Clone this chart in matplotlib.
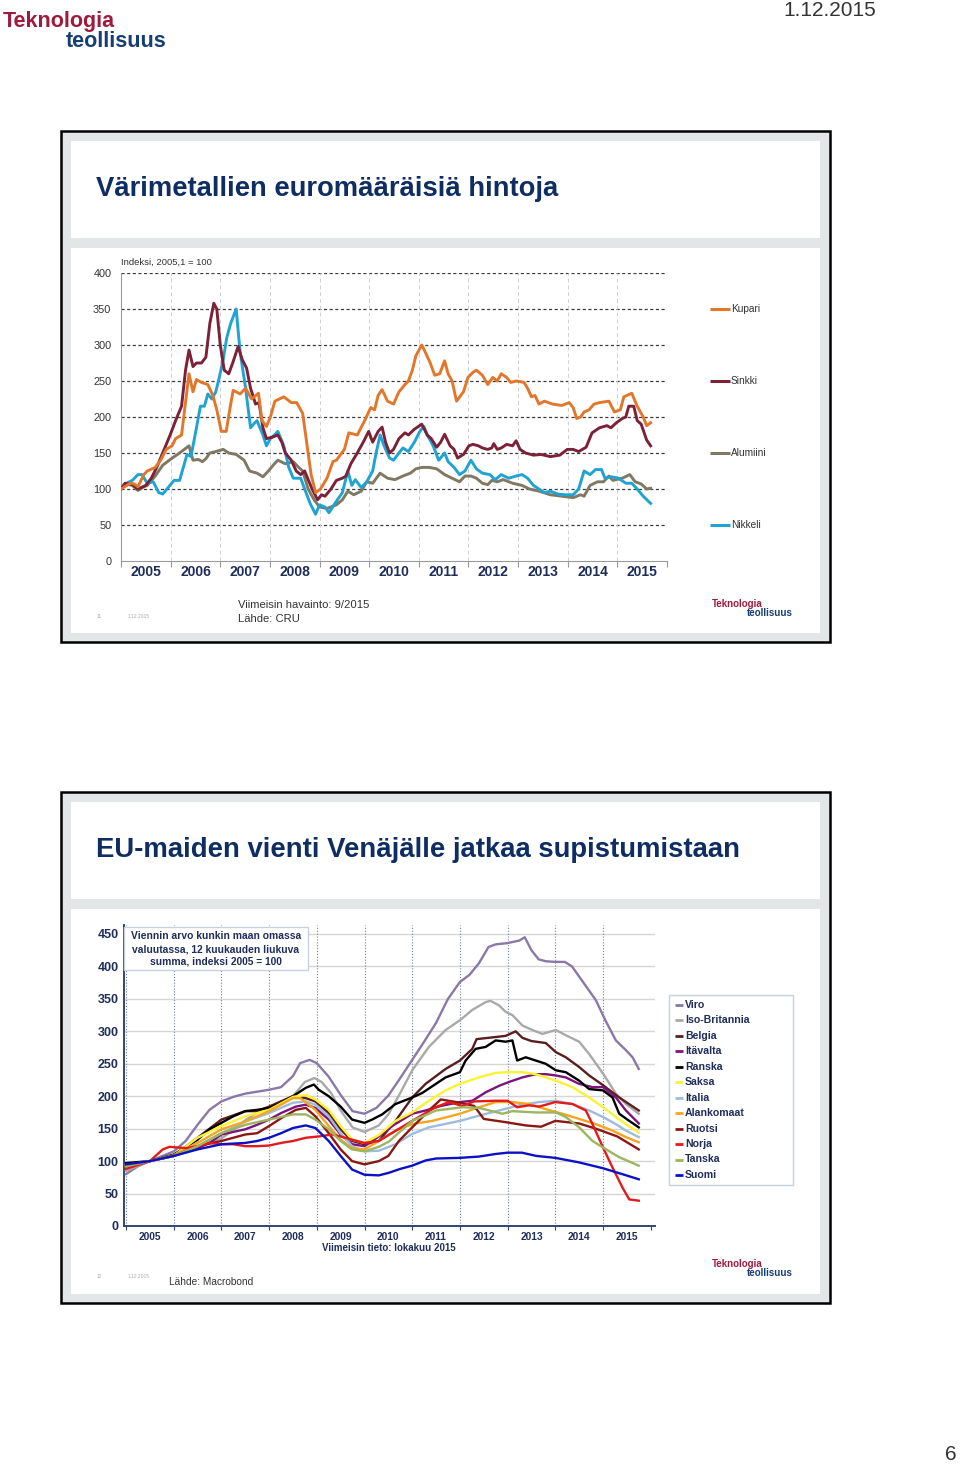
import matplotlib
matplotlib.use("Agg")
import matplotlib.pyplot as plt
from matplotlib.patches import Rectangle
from matplotlib.lines import Line2D

plt.rcParams['font.family'] = ['Liberation Sans', 'DejaVu Sans']

W, H = 960, 1466

# ---- chart 1: metal prices, index 2005/1 = 100 ----
kupari_t = [2005.00, 2005.19, 2005.27, 2005.34, 2005.46, 2005.53, 2005.69, 2005.80, 2005.91, 2006.03,
            2006.10, 2006.22, 2006.37, 2006.45, 2006.52, 2006.62, 2006.75, 2006.85, 2006.93, 2007.02,
            2007.12, 2007.19, 2007.26, 2007.40, 2007.51, 2007.63, 2007.77, 2007.84, 2007.93, 2008.01,
            2008.10, 2008.28, 2008.43, 2008.54, 2008.66, 2008.75, 2008.83, 2008.92, 2009.02, 2009.15,
            2009.27, 2009.34, 2009.50, 2009.59, 2009.76, 2009.91, 2010.03, 2010.11, 2010.18, 2010.26,
            2010.37, 2010.49, 2010.60, 2010.72, 2010.79, 2010.87, 2010.94, 2011.06, 2011.13, 2011.23,
            2011.32, 2011.42, 2011.52, 2011.59, 2011.67, 2011.76, 2011.90, 2011.99, 2012.09, 2012.16,
            2012.28, 2012.39, 2012.49, 2012.58, 2012.66, 2012.77, 2012.85, 2012.96, 2013.12, 2013.19,
            2013.27, 2013.34, 2013.42, 2013.53, 2013.69, 2013.88, 2014.03, 2014.11, 2014.18, 2014.26,
            2014.33, 2014.43, 2014.53, 2014.64, 2014.83, 2014.94, 2015.06, 2015.13, 2015.29, 2015.40,
            2015.52, 2015.59, 2015.67]
kupari_v = [100, 108, 107, 103, 120, 125, 130, 140, 155, 160,
            170, 175, 260, 235, 252, 248, 245, 230, 210, 180,
            180, 210, 237, 232, 240, 225, 233, 195, 187, 200,
            222, 228, 220, 220, 205, 160, 120, 95, 100, 115,
            138, 140, 155, 178, 175, 195, 213, 210, 230, 238,
            222, 218, 235, 245, 250, 265, 285, 300, 290, 275,
            258, 260, 278, 260, 250, 222, 235, 255, 262, 265,
            258, 245, 255, 250, 260, 255, 248, 250, 248, 240,
            228, 230, 218, 222, 218, 216, 220, 213, 198, 200,
            207, 210, 218, 220, 222, 207, 210, 228, 233, 215,
            200, 188, 192]

sinkki_t = [2005.00, 2005.08, 2005.23, 2005.34, 2005.50, 2005.61, 2005.72, 2005.84, 2005.99, 2006.10,
            2006.22, 2006.30, 2006.37, 2006.45, 2006.52, 2006.62, 2006.71, 2006.79, 2006.87, 2006.93,
            2007.00, 2007.08, 2007.17, 2007.25, 2007.36, 2007.44, 2007.53, 2007.61, 2007.71, 2007.78,
            2007.86, 2007.93, 2008.05, 2008.16, 2008.24, 2008.31, 2008.43, 2008.53, 2008.62, 2008.70,
            2008.85, 2008.96, 2009.04, 2009.11, 2009.23, 2009.34, 2009.46, 2009.53, 2009.63, 2009.76,
            2009.88, 2009.99, 2010.07, 2010.18, 2010.26, 2010.33, 2010.41, 2010.49, 2010.60, 2010.72,
            2010.79, 2010.91, 2011.06, 2011.17, 2011.25, 2011.36, 2011.44, 2011.52, 2011.63, 2011.71,
            2011.78, 2011.90, 2012.01, 2012.09, 2012.20, 2012.28, 2012.39, 2012.47, 2012.51, 2012.58,
            2012.66, 2012.77, 2012.89, 2012.96, 2013.04, 2013.15, 2013.31, 2013.46, 2013.65, 2013.84,
            2013.99, 2014.11, 2014.22, 2014.37, 2014.49, 2014.64, 2014.79, 2014.87, 2014.98, 2015.10,
            2015.17, 2015.23, 2015.33, 2015.40, 2015.48, 2015.59, 2015.67]
sinkki_v = [100, 108, 106, 100, 105, 115, 130, 150, 175, 195,
            215, 265, 293, 270, 275, 275, 283, 330, 358, 350,
            300, 265, 260, 275, 298, 280, 268, 240, 218, 220,
            185, 170, 172, 175, 165, 150, 140, 125, 120, 125,
            100, 85, 92, 90, 100, 112, 115, 118, 135, 150,
            165, 180, 165, 180, 186, 165, 150, 155, 170, 178,
            175, 183, 190, 175, 170, 158, 165, 176, 160, 155,
            143, 148, 160, 162, 160, 157, 155, 157, 163, 155,
            157, 162, 160, 167, 155, 150, 147, 148, 145, 147,
            155, 155, 152, 158, 178, 185, 188, 185, 192, 198,
            200, 215, 215, 195, 190, 168, 160]

alumiini_t = [2005.00, 2005.11, 2005.23, 2005.34, 2005.46, 2005.53, 2005.69, 2005.84, 2006.03, 2006.14,
              2006.37, 2006.45, 2006.56, 2006.64, 2006.71, 2006.79, 2006.91, 2007.06, 2007.17, 2007.32,
              2007.48, 2007.59, 2007.74, 2007.86, 2007.97, 2008.09, 2008.16, 2008.31, 2008.47, 2008.58,
              2008.66, 2008.77, 2008.89, 2009.00, 2009.15, 2009.34, 2009.46, 2009.57, 2009.69, 2009.84,
              2009.95, 2010.07, 2010.22, 2010.37, 2010.52, 2010.68, 2010.83, 2010.94, 2011.06, 2011.21,
              2011.36, 2011.52, 2011.67, 2011.82, 2011.93, 2012.05, 2012.16, 2012.28, 2012.39, 2012.47,
              2012.58, 2012.70, 2012.89, 2013.08, 2013.23, 2013.42, 2013.65, 2013.88, 2014.11, 2014.26,
              2014.33, 2014.45, 2014.60, 2014.72, 2014.83, 2014.91, 2015.10, 2015.25, 2015.36, 2015.48,
              2015.59, 2015.67]
alumiini_v = [100, 107, 105, 98, 103, 105, 118, 133, 143, 148,
              160, 140, 141, 138, 142, 150, 152, 155, 150, 148,
              140, 125, 122, 117, 125, 135, 140, 135, 138, 130,
              125, 100, 85, 75, 73, 78, 85, 97, 92, 97,
              110, 108, 122, 115, 113, 118, 122, 128, 130, 130,
              128, 120, 115, 110, 118, 118, 115, 108, 106, 112,
              110, 113, 108, 105, 100, 97, 92, 90, 88, 92,
              90, 105, 110, 110, 118, 112, 115, 120, 110, 107,
              100, 101]

nikkeli_t = [2005.00, 2005.11, 2005.23, 2005.34, 2005.42, 2005.53, 2005.65, 2005.76, 2005.84, 2005.95,
             2006.07, 2006.18, 2006.33, 2006.41, 2006.52, 2006.60, 2006.68, 2006.75, 2006.83, 2006.91,
             2006.98, 2007.06, 2007.13, 2007.21, 2007.32, 2007.40, 2007.51, 2007.61, 2007.67, 2007.74,
             2007.86, 2007.93, 2008.01, 2008.09, 2008.16, 2008.28, 2008.38, 2008.47, 2008.62, 2008.70,
             2008.81, 2008.92, 2009.00, 2009.11, 2009.19, 2009.31, 2009.46, 2009.57, 2009.65, 2009.72,
             2009.84, 2009.95, 2010.07, 2010.14, 2010.22, 2010.30, 2010.41, 2010.49, 2010.60, 2010.68,
             2010.79, 2010.91, 2011.02, 2011.10, 2011.17, 2011.29, 2011.40, 2011.52, 2011.59, 2011.71,
             2011.82, 2011.93, 2012.05, 2012.16, 2012.28, 2012.43, 2012.54, 2012.66, 2012.81, 2012.96,
             2013.08, 2013.19, 2013.31, 2013.42, 2013.53, 2013.65, 2013.80, 2013.95, 2014.11, 2014.22,
             2014.33, 2014.45, 2014.56, 2014.68, 2014.75, 2014.87, 2015.02, 2015.17, 2015.29, 2015.40,
             2015.52, 2015.67]
nikkeli_v = [100, 108, 112, 120, 120, 108, 110, 95, 93, 102,
             112, 112, 148, 145, 185, 215, 215, 232, 225, 235,
             255, 280, 310, 330, 350, 290, 240, 185, 190, 195,
             175, 160, 170, 175, 180, 160, 130, 115, 115, 100,
             80, 65, 78, 75, 67, 80, 95, 125, 105, 113,
             102, 110, 125, 150, 175, 160, 143, 140, 150, 157,
             152, 165, 180, 187, 175, 160, 140, 150, 138, 130,
             120, 125, 140, 128, 122, 120, 113, 120, 115, 118,
             120, 115, 105, 100, 95, 97, 93, 92, 92, 100,
             125, 120, 127, 127, 115, 117, 115, 108, 108, 100,
             90, 80]

metals = ["Kupari", "Sinkki", "Alumiini", "Nikkeli"]
metal_colors = ["#E2772C", "#7B2138", "#807862", "#1FA3D2"]

# ---- chart 2: EU exports to Russia, index 2005 = 100 ----
viro_t = [2005.0, 2005.25, 2005.5, 2006.0, 2006.25, 2006.5, 2006.75, 2007.0, 2007.25, 2007.5, 2007.75,
          2008.0, 2008.25, 2008.5, 2008.65, 2008.85, 2009.0, 2009.25, 2009.5, 2009.75, 2010.0, 2010.25,
          2010.5, 2010.75, 2011.0, 2011.25, 2011.5, 2011.75, 2012.0, 2012.2, 2012.4, 2012.6, 2012.75,
          2013.0, 2013.25, 2013.36, 2013.5, 2013.65, 2013.8, 2014.0, 2014.2, 2014.35, 2014.6, 2014.85,
          2015.05, 2015.27, 2015.48, 2015.62, 2015.75]
viro_v = [80, 92, 100, 115, 131, 156, 179, 192, 199, 204, 207, 210, 214, 231, 251, 256, 251, 230, 202,
          177, 173, 182, 201, 228, 256, 284, 313, 350, 376, 387, 405, 430, 434, 436, 440, 445, 425, 411,
          408, 407, 407, 400, 374, 348, 317, 286, 271, 260, 242]

uk_t = [2005.0, 2005.5, 2006.0, 2006.5, 2007.0, 2007.25, 2007.5, 2007.75, 2008.0, 2008.25, 2008.5,
        2008.75, 2008.95, 2009.1, 2009.3, 2009.5, 2009.75, 2010.0, 2010.3, 2010.5, 2010.75, 2011.0,
        2011.35, 2011.7, 2012.0, 2012.26, 2012.54, 2012.64, 2012.82, 2012.96, 2013.1, 2013.31, 2013.52,
        2013.73, 2014.01, 2014.22, 2014.5, 2014.71, 2015.0, 2015.27, 2015.48, 2015.75]
uk_v = [85, 100, 110, 122, 135, 148, 163, 175, 183, 192, 200, 222, 228, 222, 205, 178, 152, 145, 155,
        172, 205, 240, 276, 302, 317, 333, 345, 347, 340, 330, 325, 309, 302, 296, 302, 294, 284, 265,
        235, 204, 188, 173]

belgia_t = [2005.0, 2005.5, 2006.0, 2006.5, 2007.0, 2007.5, 2007.75, 2008.0, 2008.25, 2008.5, 2008.77,
            2008.97, 2009.25, 2009.5, 2009.74, 2010.0, 2010.3, 2010.65, 2011.0, 2011.28, 2011.7, 2012.0,
            2012.26, 2012.35, 2012.6, 2012.96, 2013.17, 2013.31, 2013.5, 2013.8, 2014.01, 2014.22, 2014.5,
            2014.71, 2015.0, 2015.34, 2015.75]
belgia_v = [92, 100, 108, 136, 164, 177, 177, 184, 192, 200, 197, 192, 174, 149, 131, 126, 131, 162, 198,
            219, 242, 255, 273, 288, 290, 293, 300, 290, 285, 282, 268, 260, 245, 232, 217, 198, 178]

itavalta_t = [2005.0, 2005.5, 2006.0, 2006.5, 2006.75, 2007.0, 2007.5, 2007.75, 2008.0, 2008.25, 2008.56,
              2008.77, 2008.97, 2009.25, 2009.5, 2009.74, 2010.0, 2010.3, 2010.6, 2011.0, 2011.28, 2011.6,
              2012.0, 2012.26, 2012.54, 2012.82, 2013.03, 2013.31, 2013.59, 2013.8, 2014.01, 2014.22,
              2014.5, 2014.78, 2015.0, 2015.27, 2015.48, 2015.75]
itavalta_v = [92, 100, 108, 120, 128, 141, 149, 156, 164, 174, 184, 187, 182, 164, 141, 126, 123, 138,
              155, 173, 178, 185, 191, 193, 206, 216, 222, 229, 234, 234, 232, 229, 219, 214, 214, 198,
              178, 158]

ranska_t = [2005.0, 2005.5, 2006.0, 2006.5, 2006.75, 2007.0, 2007.25, 2007.5, 2007.75, 2008.0, 2008.25,
            2008.5, 2008.77, 2008.94, 2009.04, 2009.25, 2009.5, 2009.74, 2010.0, 2010.16, 2010.37,
            2010.65, 2011.0, 2011.21, 2011.7, 2012.0, 2012.12, 2012.33, 2012.54, 2012.75, 2012.96,
            2013.1, 2013.2, 2013.38, 2013.59, 2013.8, 2014.01, 2014.22, 2014.5, 2014.71, 2015.0, 2015.2,
            2015.34, 2015.55, 2015.75]
ranska_v = [97, 100, 110, 133, 149, 159, 169, 177, 179, 182, 190, 200, 213, 218, 210, 200, 184, 164,
            159, 164, 172, 188, 198, 205, 229, 237, 255, 273, 276, 286, 284, 286, 255, 260, 255, 250,
            240, 237, 224, 211, 209, 198, 173, 162, 152]

saksa_t = [2005.0, 2005.5, 2006.0, 2006.5, 2007.0, 2007.5, 2008.0, 2008.5, 2008.77, 2008.97, 2009.25,
           2009.5, 2009.74, 2010.0, 2010.3, 2010.65, 2011.0, 2011.35, 2011.7, 2012.0, 2012.4, 2012.75,
           2013.0, 2013.31, 2013.59, 2014.01, 2014.36, 2014.71, 2015.0, 2015.27, 2015.48, 2015.75]
saksa_v = [94, 100, 108, 136, 154, 169, 179, 199, 202, 195, 179, 154, 133, 128, 140, 162, 175, 193, 209,
           219, 229, 236, 237, 237, 234, 224, 214, 198, 183, 168, 157, 144]

italia_t = [2005.0, 2005.5, 2006.0, 2006.5, 2007.0, 2007.5, 2008.0, 2008.5, 2008.77, 2008.97, 2009.25,
            2009.5, 2009.74, 2010.0, 2010.3, 2010.65, 2011.0, 2011.35, 2012.0, 2012.4, 2012.82, 2013.24,
            2013.66, 2014.01, 2014.36, 2014.71, 2015.0, 2015.27, 2015.48, 2015.75]
italia_v = [92, 100, 108, 123, 143, 161, 174, 190, 192, 187, 169, 143, 123, 115, 116, 126, 142, 152, 162,
            170, 178, 186, 191, 193, 188, 178, 168, 157, 147, 137]

alankomaat_t = [2005.0, 2005.5, 2006.0, 2006.5, 2007.0, 2007.5, 2008.0, 2008.5, 2008.66, 2008.97,
                2009.25, 2009.5, 2009.74, 2010.0, 2010.3, 2010.65, 2011.0, 2011.42, 2012.0, 2012.4,
                2012.75, 2013.1, 2013.45, 2013.8, 2014.15, 2014.5, 2014.85, 2015.2, 2015.48, 2015.75]
alankomaat_v = [90, 100, 109, 128, 149, 161, 177, 197, 197, 179, 154, 133, 120, 118, 131, 147, 157, 162,
                173, 183, 191, 191, 188, 180, 173, 165, 157, 147, 137, 129]

ruotsi_t = [2005.0, 2005.5, 2006.0, 2006.5, 2007.0, 2007.5, 2007.75, 2008.0, 2008.25, 2008.56, 2008.77,
            2008.97, 2009.25, 2009.5, 2009.74, 2010.0, 2010.3, 2010.5, 2010.72, 2011.0, 2011.35, 2011.6,
            2012.0, 2012.3, 2012.5, 2012.96, 2013.38, 2013.7, 2014.0, 2014.5, 2014.85, 2015.3, 2015.75]
ruotsi_v = [92, 100, 108, 123, 131, 141, 143, 154, 166, 179, 182, 169, 143, 118, 100, 95, 100, 108, 131,
            152, 178, 195, 190, 185, 165, 160, 155, 153, 162, 158, 150, 138, 118]

norja_t = [2005.0, 2005.5, 2005.77, 2005.91, 2006.26, 2006.5, 2006.75, 2007.0, 2007.25, 2007.5, 2007.75,
           2008.0, 2008.25, 2008.5, 2008.77, 2009.04, 2009.32, 2009.5, 2009.74, 2010.0, 2010.3, 2010.5,
           2011.0, 2011.49, 2011.77, 2012.05, 2012.3, 2012.75, 2013.0, 2013.2, 2013.45, 2013.66, 2014.0,
           2014.36, 2014.64, 2014.78, 2015.0, 2015.2, 2015.41, 2015.55, 2015.75]
norja_v = [88, 100, 118, 122, 120, 123, 128, 126, 126, 123, 123, 124, 128, 131, 136, 138, 141, 138, 133,
           128, 131, 140, 162, 183, 191, 185, 192, 193, 193, 183, 186, 184, 191, 188, 178, 157, 121, 90,
           59, 41, 39]

tanska_t = [2005.0, 2005.5, 2006.0, 2006.5, 2007.0, 2007.5, 2008.0, 2008.5, 2008.77, 2008.97, 2009.25,
            2009.5, 2009.74, 2010.0, 2010.3, 2010.51, 2011.0, 2011.5, 2012.05, 2012.4, 2012.89, 2013.1,
            2013.59, 2014.01, 2014.22, 2014.5, 2014.78, 2015.0, 2015.34, 2015.75]
tanska_v = [92, 100, 108, 123, 143, 156, 164, 172, 172, 164, 149, 131, 118, 115, 122, 130, 162, 178, 183,
            182, 173, 177, 175, 175, 168, 152, 131, 121, 106, 93]

suomi_t = [2005.0, 2005.5, 2006.0, 2006.5, 2007.0, 2007.5, 2007.75, 2008.0, 2008.25, 2008.5, 2008.77,
           2008.97, 2009.25, 2009.5, 2009.74, 2010.0, 2010.3, 2010.51, 2010.75, 2011.0, 2011.28, 2011.5,
           2012.0, 2012.4, 2012.75, 2013.0, 2013.3, 2013.6, 2014.0, 2014.5, 2015.0, 2015.4, 2015.75]
suomi_v = [95, 100, 108, 118, 126, 128, 131, 136, 143, 151, 155, 151, 131, 108, 87, 79, 78, 82, 88, 93,
           101, 104, 105, 107, 111, 113, 113, 108, 105, 98, 89, 80, 72]

countries = ["Viro", "Iso-Britannia", "Belgia", "Itävalta", "Ranska", "Saksa", "Italia",
             "Alankomaat", "Ruotsi", "Norja", "Tanska", "Suomi"]
country_colors = ["#8A78A8", "#A9A9A9", "#5A1E1E", "#7C147C", "#000000", "#FAF232", "#9DBCDC",
                  "#F5A51E", "#8A1712", "#E4191B", "#9CB55E", "#0B12C4"]

years = list(range(2005, 2016))

# ---- layout helpers (pixel based) ----
def fx(x):
    return x / W

def fy(y):
    return 1 - y / H

def px_rect(x0, y0, x1, y1):
    return [x0 / W, 1 - y1 / H, (x1 - x0) / W, (y1 - y0) / H]

def box(x0, y0, x1, y1, fc, ec="none", lw=0.0, z=-10):
    fig.add_artist(Rectangle((fx(x0), fy(y1)), (x1 - x0) / W, (y1 - y0) / H,
                             transform=fig.transFigure, facecolor=fc, edgecolor=ec,
                             linewidth=lw, zorder=z))

def seg(x0, x1, y, color, lw=2.0, z=6):
    fig.add_artist(Line2D([fx(x0), fx(x1)], [fy(y), fy(y)], transform=fig.transFigure,
                          color=color, lw=lw, solid_capstyle="butt", zorder=z))

def small_logo(y_base):
    fig.text(fx(712), fy(y_base), "Teknologia", fontsize=7.0, fontweight="bold",
             color=logo_red, va="baseline")
    fig.text(fx(793), fy(y_base + 9), "teollisuus", fontsize=7.0, fontweight="bold",
             color=logo_blue, va="baseline", ha="right")

fig = plt.figure(figsize=(W / 100, H / 100), dpi=100)
fig.patch.set_facecolor("white")

navy = "#0E2D63"
label_navy = "#1F2D5A"
logo_red = "#9E1B3E"
logo_blue = "#173E73"

# page header
fig.text(fx(3), fy(27), "Teknologia", fontsize=15.5, fontweight="bold", color=logo_red)
fig.text(fx(66), fy(47), "teollisuus", fontsize=15.5, fontweight="bold", color=logo_blue)
fig.text(fx(876), fy(11), "1.12.2015", fontsize=15, color="#333333", ha="right", va="center")
fig.text(fx(957), fy(1455), "6", fontsize=15, color="#333333", ha="right", va="center")

# slide frames
for top in (131, 792):
    box(61, top, 830, top + 511, "#E3E6E6", "black", 1.8)
    box(71, top + 10, 820, top + 107, "white")
    box(71, top + 117, 820, top + 502, "white")

fig.text(fx(96), fy(189), "Värimetallien euromääräisiä hintoja", fontsize=19.7,
         fontweight="bold", color=navy, va="center")
fig.text(fx(96), fy(850), "EU-maiden vienti Venäjälle jatkaa supistumistaan", fontsize=19.8,
         fontweight="bold", color=navy, va="center")

# ---- chart 1 ----
ax1 = fig.add_axes(px_rect(121, 273, 667, 561))
ax1.set_xlim(2005, 2016)
ax1.set_ylim(0, 400)
for v in range(50, 401, 50):
    ax1.axhline(v, color="#3A3A3A", lw=0.9, ls=(0, (2.5, 2)), zorder=1)
for yr in range(2006, 2016):
    ax1.axvline(yr, color="#D0D0D0", lw=0.7, ls=(0, (4, 3)), zorder=1)

series1 = [(alumiini_t, alumiini_v, metal_colors[2]),
           (nikkeli_t, nikkeli_v, metal_colors[3]),
           (sinkki_t, sinkki_v, metal_colors[1]),
           (kupari_t, kupari_v, metal_colors[0])]
for t, v, c in series1:
    ax1.plot(t, v, color=c, lw=2.1, zorder=3)

for s in ("top", "right"):
    ax1.spines[s].set_visible(False)
for s in ("left", "bottom"):
    ax1.spines[s].set_color("#9A9A9A")
ax1.set_yticks(range(0, 401, 50))
ax1.tick_params(axis="y", length=0, pad=7, labelsize=7.8, labelcolor="#333333")
ax1.set_xticks(range(2005, 2017))
ax1.set_xticklabels([])
ax1.tick_params(axis="x", which="major", length=4, color="#9A9A9A")
ax1.set_xticks([y + 0.5 for y in years], minor=True)
ax1.set_xticklabels([str(y) for y in years], minor=True, fontweight="bold")
ax1.tick_params(axis="x", which="minor", length=0, pad=3, labelsize=10, labelcolor=label_navy)

fig.text(fx(121), fy(262), "Indeksi, 2005,1 = 100", fontsize=6.8, color="#333333", va="center")

for name, c, y in zip(metals, metal_colors, [309, 381, 453, 525]):
    seg(710, 730, y, c, lw=2.2)
    fig.text(fx(731), fy(y), name, fontsize=7.3, color="#333333", va="center")

fig.text(fx(97), fy(617), "11", fontsize=3.5, color="#AAAAAA", va="center")
fig.text(fx(128), fy(617), "1.12.2015", fontsize=3.5, color="#AAAAAA", va="center")
fig.text(fx(238), fy(605), "Viimeisin havainto: 9/2015", fontsize=8.1, color="#333333", va="center")
fig.text(fx(238), fy(619), "Lähde: CRU", fontsize=8.1, color="#333333", va="center")
small_logo(607)

# ---- chart 2 ----
x_left = 2005 - 2 / 47.7
x_right = 2005 + (655 - 126) / 47.7
ax2 = fig.add_axes(px_rect(124, 925, 655, 1226))
ax2.set_xlim(x_left, x_right)
ax2.set_ylim(0, 450 + 9 / 0.649)
for v in range(50, 451, 50):
    ax2.axhline(v, color="#D6D6D6", lw=1.0, zorder=1)
for yr in range(2005, 2016):
    ax2.axvline(yr, color="#6F7FA3", lw=0.8, ls=(0, (1, 1.6)), zorder=1)

series2 = [(viro_t, viro_v), (uk_t, uk_v), (belgia_t, belgia_v), (itavalta_t, itavalta_v),
           (ranska_t, ranska_v), (saksa_t, saksa_v), (italia_t, italia_v),
           (alankomaat_t, alankomaat_v), (ruotsi_t, ruotsi_v), (norja_t, norja_v),
           (tanska_t, tanska_v), (suomi_t, suomi_v)]
for (t, v), c in zip(series2, country_colors):
    ax2.plot(t, v, color=c, lw=1.7, zorder=3)

for s in ("top", "right"):
    ax2.spines[s].set_visible(False)
for s in ("left", "bottom"):
    ax2.spines[s].set_color("#34456F")
    ax2.spines[s].set_linewidth(1.4)
ax2.set_yticks(range(0, 451, 50))
ax2.set_yticklabels([str(v) for v in range(0, 451, 50)], fontweight="bold")
ax2.tick_params(axis="y", length=0, pad=4, labelsize=9, labelcolor=label_navy)
ax2.set_xticks(range(2005, 2017))
ax2.set_xticklabels([])
ax2.tick_params(axis="x", which="major", length=3, color="#34456F")
ax2.set_xticks([y + 0.5 for y in years], minor=True)
ax2.set_xticklabels([str(y) for y in years], minor=True, fontweight="bold")
ax2.tick_params(axis="x", which="minor", length=0, pad=4, labelsize=7.4, labelcolor=label_navy)

# note box in the chart corner
box(124, 927, 308, 970, "white", "#C8D2DC", 1.0, z=5)
for i, line in enumerate(["Viennin arvo kunkin maan omassa",
                          "valuutassa, 12 kuukauden liukuva",
                          "summa, indeksi 2005 = 100"]):
    fig.text(fx(216), fy(936 + 13 * i), line, fontsize=7.4, fontweight="bold",
             color=label_navy, ha="center", va="center", zorder=6)

# legend
box(669, 995, 793, 1185, "white", "#C5D3DE", 1.0, z=5)
for i, (name, c) in enumerate(zip(countries, country_colors)):
    y = 1005 + 15.45 * i
    seg(675, 683, y, c, lw=2.0)
    fig.text(fx(685), fy(y), name, fontsize=7.6, fontweight="bold", color=label_navy,
             va="center", zorder=6)

fig.text(fx(389), fy(1248), "Viimeisin tieto: lokakuu 2015", fontsize=7, fontweight="bold",
         color=label_navy, ha="center", va="center")
fig.text(fx(97), fy(1277), "12", fontsize=3.5, color="#AAAAAA", va="center")
fig.text(fx(128), fy(1277), "1.12.2015", fontsize=3.5, color="#AAAAAA", va="center")
fig.text(fx(169), fy(1282), "Lähde: Macrobond", fontsize=7.3, color="#333333", va="center")
small_logo(1267)

fig.savefig("out.png", dpi=100)
